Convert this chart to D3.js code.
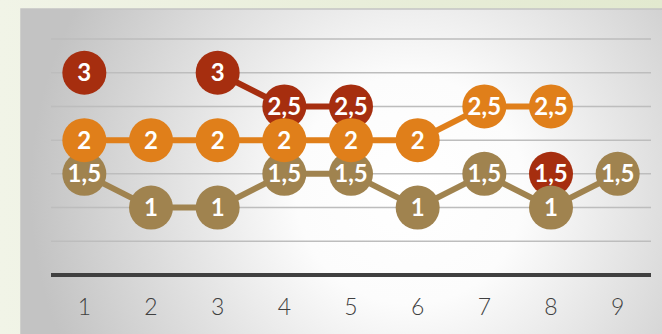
<!DOCTYPE html>
<html>
<head>
<meta charset="utf-8">
<script src="https://cdn.jsdelivr.net/npm/d3@7"></script>
<style>
  html, body { margin: 0; padding: 0; }
  body { width: 662px; height: 334px; overflow: hidden; }
</style>
</head>
<body>
<svg id="chart" width="662" height="334"></svg>
<script>
// Categories along the x axis
const categories = ["1", "2", "3", "4", "5", "6", "7", "8", "9"];
// Series values (null = no point for that category)
const seriesRed    = [3, null, 3, 2.5, 2.5, null, null, 1.5, null];
const seriesTan    = [1.5, 1, 1, 1.5, 1.5, 1, 1.5, 1, 1.5];
const seriesOrange = [2, 2, 2, 2, 2, 2, 2.5, 2.5, null];
// Gridline values on the value axis
const gridValues = [0.5, 1, 1.5, 2, 2.5, 3, 3.5];

const series = [
  { name: "red", values: seriesRed, color: "#a62e0f" },
  { name: "tan", values: seriesTan, color: "#a0834f" },
  { name: "orange", values: seriesOrange, color: "#e07f1a" }
];

const W = 662, H = 334;
const panel = { x: 21, y: 9 };
const plot = { left: 51, right: 651, top: 39, bottom: 275 };

const svg = d3.select("#chart");
const defs = svg.append("defs");

// Page background
const bg = defs.append("linearGradient").attr("id", "pageBg")
  .attr("x1", "0").attr("y1", "0").attr("x2", "1").attr("y2", "0");
bg.append("stop").attr("offset", "0").attr("stop-color", "#f1f4e7");
bg.append("stop").attr("offset", "1").attr("stop-color", "#e2e9cf");

// Panel background
const rg = defs.append("radialGradient").attr("id", "panelBg")
  .attr("gradientUnits", "userSpaceOnUse")
  .attr("cx", 410).attr("cy", 190).attr("r", 380);
rg.append("stop").attr("offset", "0").attr("stop-color", "#ffffff");
rg.append("stop").attr("offset", "0.3").attr("stop-color", "#fcfcfc");
rg.append("stop").attr("offset", "1").attr("stop-color", "#c3c3c3");

svg.append("rect").attr("width", W).attr("height", H).attr("fill", "url(#pageBg)");
svg.append("rect")
  .attr("x", panel.x).attr("y", panel.y)
  .attr("width", W - panel.x + 2).attr("height", H - panel.y + 2)
  .attr("fill", "url(#panelBg)")
  .attr("stroke", "#c4c4c4").attr("stroke-width", 1.5);

const x = d3.scaleBand().domain(categories).range([plot.left, plot.right]);
const y = d3.scaleLinear().domain([0, 3.5]).range([plot.bottom, plot.top]);

// Horizontal gridlines
svg.append("g").selectAll("line").data(gridValues).join("line")
  .attr("x1", plot.left).attr("x2", plot.right)
  .attr("y1", d => y(d)).attr("y2", d => y(d))
  .attr("stroke", "#bdbdbd").attr("stroke-width", 1.5);

// Category axis
const xAxis = svg.append("g")
  .attr("transform", `translate(0,${y(0)})`)
  .call(d3.axisBottom(x).tickSize(0).tickPadding(24));
xAxis.select(".domain").attr("stroke", "#404040").attr("stroke-width", 4)
  .attr("d", `M${plot.left},0H${plot.right}`);
xAxis.selectAll("text")
  .attr("fill", "#404040")
  .style("font-family", "Lato, 'Open Sans', sans-serif")
  .style("font-weight", 300)
  .style("font-size", "23px");

const cx = (i) => x(categories[i]) + x.bandwidth() / 2;
const fmt = (v) => String(v).replace(".", ",");
const R = 22;

series.forEach(s => {
  const g = svg.append("g");
  const pts = s.values.map((v, i) => ({ v, i })).filter(d => d.v != null);
  const line = d3.line()
    .defined(d => d.v != null)
    .x(d => cx(d.i)).y(d => y(d.v));
  g.append("path")
    .datum(s.values.map((v, i) => ({ v, i })))
    .attr("d", line)
    .attr("fill", "none")
    .attr("stroke", s.color)
    .attr("stroke-width", 6)
    .attr("stroke-linejoin", "round");
  g.selectAll("circle").data(pts).join("circle")
    .attr("cx", d => cx(d.i)).attr("cy", d => y(d.v)).attr("r", R)
    .attr("fill", s.color);
  g.selectAll("text").data(pts).join("text")
    .attr("x", d => cx(d.i)).attr("y", d => y(d.v))
    .attr("dy", "0.36em")
    .attr("text-anchor", "middle")
    .attr("fill", "#ffffff")
    .style("font-family", "Lato, 'Open Sans', sans-serif")
    .style("font-weight", 700)
    .style("font-size", "24px")
    .text(d => fmt(d.v));
});
</script>
</body>
</html>
